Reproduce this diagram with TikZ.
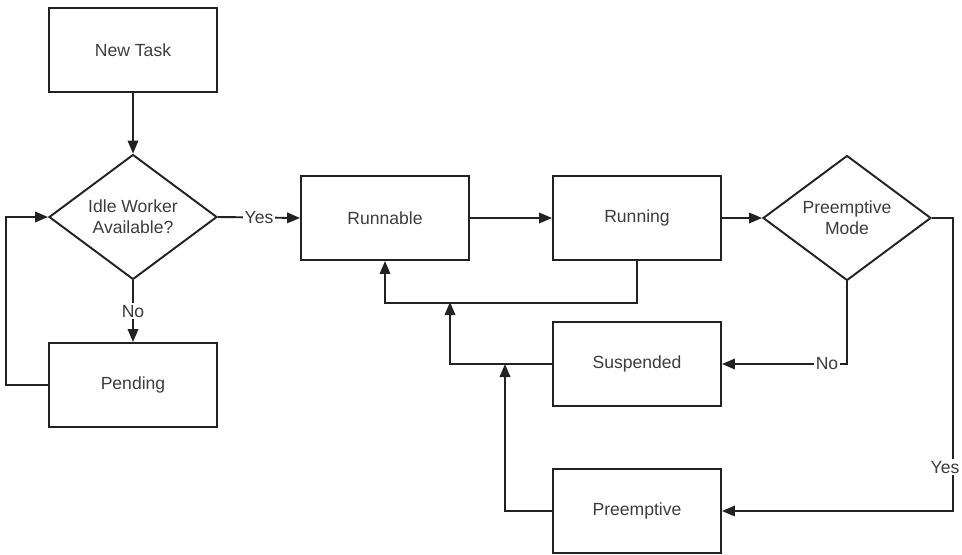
\documentclass[tikz,border=0pt]{standalone}
\usepackage{fontspec}
\setmainfont{Liberation Sans}
\usepackage{xcolor}
\usetikzlibrary{arrows.meta,shapes.geometric}
\definecolor{linegray}{HTML}{222222}
\definecolor{textgray}{HTML}{3C3C3C}
\tikzset{
	box/.style={draw=linegray,line width=1.1pt,rectangle,minimum width=3.36cm,minimum height=1.68cm,text=textgray,font=\fontsize{10}{12}\selectfont},
	decide/.style={draw=linegray,line width=1.1pt,diamond,inner sep=0pt,minimum width=3.36cm,minimum height=2.5cm,align=center,text=textgray,font=\fontsize{10}{12}\selectfont},
	arr/.style={draw=linegray,line width=1.1pt,-{Triangle[length=0.26cm,width=0.21cm]}},
	lbl/.style={fill=white,inner sep=1pt,text=textgray,font=\fontsize{10}{12}\selectfont}
}
\begin{document}
\begin{tikzpicture}[x=0.02cm,y=-0.02cm]
	\useasboundingbox (0,0) rectangle (962,554);
	\node[box] (task) at (133,50) {New Task};
	\node[decide] (idle) at (133,217) {Idle Worker\\Available?};
	\node[box] (pend) at (133,385) {Pending};
	\node[box] (runb) at (385,218) {Runnable};
	\node[box] (runn) at (637,218) {Running};
	\node[decide] (mode) at (847,218) {Preemptive\\Mode};
	\node[box] (susp) at (637,364) {Suspended};
	\node[box] (preem) at (637,511) {Preemptive};
	\coordinate (j1) at (450,302);
	\coordinate (j2) at (505,364);
	\draw[arr] (task) -- (idle);
	\draw[arr] (idle.east) -- node[lbl] {Yes} (runb.west);
	\draw[arr] (idle.south) -- node[lbl] {No} (pend.north);
	\draw[arr] (pend.west) -- ++(-42,0) |- (idle.west);
	\draw[arr] (runb) -- (runn);
	\draw[arr] (runn.east) -- (mode.west);
	\draw[arr] (runn.south) -- ++(0,42) -| (runb.south);
	\draw[arr] (susp.west) -| (j1);
	\draw[arr] (preem.west) -| (j2);
	\draw[arr] (mode.south) |- node[lbl,pos=0.58] {No} (susp.east);
	\draw[arr] (mode.east) -- ++(21,0) |- node[lbl,pos=0.425,xshift=-0.16cm] {Yes} (preem.east);
\end{tikzpicture}
\end{document}
